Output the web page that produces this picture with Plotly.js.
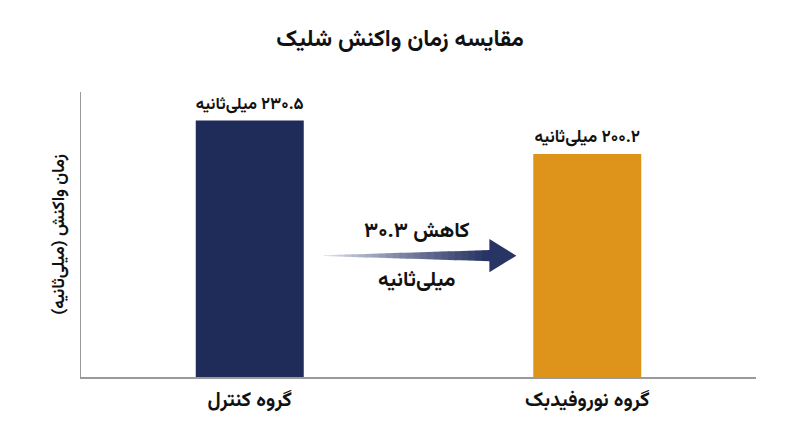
<!DOCTYPE html>
<html>
<head>
<meta charset="utf-8">
<script src="https://cdn.plot.ly/plotly-3.0.1.min.js"></script>
<style>
  html, body { margin: 0; padding: 0; background: #fff; }
  #chart { width: 800px; height: 447px; }
</style>
</head>
<body>
<div id="chart"></div>
<script>
// data
const groups = ['گروه کنترل', 'گروه نوروفیدبک'];
const reactionMs = [230.5, 200.2];
const barColors = ['#1f2c5a', '#de941a'];
const unitLabel = 'میلی‌ثانیه';

const FONT = "Vazirmatn, 'DejaVu Sans', sans-serif";
const RLM = '\u200F';

// english digits -> persian digits
const toFa = (n) => String(n).replace(/[0-9]/g, (d) => '۰۱۲۳۴۵۶۷۸۹'[d]);

const barText = reactionMs.map((v) => RLM + toFa(v.toFixed(1)) + ' ' + unitLabel + RLM);
const diff = (reactionMs[0] - reactionMs[1]).toFixed(1);

// arrow from control bar towards neurofeedback bar, gradient faked with segments
const arrowStart = 0.22, arrowHeadStart = 0.71, arrowTip = 0.79, arrowY = 109;
const shapes = [];
const steps = 24;
const c0 = [236, 238, 244], c1 = [40, 52, 100];
for (let i = 0; i < steps; i++) {
    const t0 = i / steps, t1 = (i + 1) / steps;
    const xa = arrowStart + (arrowHeadStart - arrowStart) * t0;
    const xb = arrowStart + (arrowHeadStart - arrowStart) * t1 + 0.002;
    const ha = 0.4 + 4.6 * t0, hb = 0.4 + 4.6 * t1;
    const col = c0.map((c, k) => Math.round(c + (c1[k] - c) * Math.pow(t1, 0.8)));
    shapes.push({
        type: 'path', xref: 'x', yref: 'y',
        path: `M ${xa} ${arrowY - ha} L ${xb} ${arrowY - hb} L ${xb} ${arrowY + hb} L ${xa} ${arrowY + ha} Z`,
        fillcolor: `rgb(${col.join(',')})`, line: { width: 0 },
    });
}
shapes.push({
    type: 'path', xref: 'x', yref: 'y',
    path: `M ${arrowHeadStart} ${arrowY + 15} L ${arrowTip} ${arrowY} L ${arrowHeadStart} ${arrowY - 15} Z`,
    fillcolor: 'rgb(40,52,100)', line: { width: 0 },
});

const data = [{
    type: 'bar',
    x: groups,
    y: reactionMs,
    width: 0.32,
    marker: { color: barColors, line: { width: 0 } },
    text: barText,
    textposition: 'outside',
    textfont: { family: FONT, size: 17, color: '#111', weight: 'bold' },
    cliponaxis: false,
    hoverinfo: 'none',
}];

const layout = {
    width: 800,
    height: 447,
    margin: { l: 81, r: 44, t: 92, b: 70 },
    paper_bgcolor: '#fff',
    plot_bgcolor: '#fff',
    showlegend: false,
    font: { family: FONT, color: '#111' },
    title: {
        text: '<b>مقایسه زمان واکنش شلیک</b>',
        font: { family: FONT, size: 23, color: '#111' },
        x: 0.5, xanchor: 'center', y: 0.915, yanchor: 'middle',
    },
    xaxis: {
        range: [-0.5, 1.5],
        showline: true, linecolor: '#9a9a9a', linewidth: 1.5,
        showgrid: false, zeroline: false, ticks: '',
        ticklabelstandoff: 3,
        tickfont: { family: FONT, size: 20, color: '#111', weight: 'bold' },
        fixedrange: true,
    },
    yaxis: {
        range: [0, 256],
        showline: true, linecolor: '#9a9a9a', linewidth: 1.5,
        showgrid: false, zeroline: false, ticks: '', showticklabels: false,
        title: {
            text: '<b>' + RLM + 'زمان واکنش (میلی‌ثانیه)' + RLM + '</b>',
            font: { family: FONT, size: 17, color: '#111' },
            standoff: 10,
        },
        fixedrange: true,
    },
    shapes: shapes,
    annotations: [
        {
            x: 0.495, y: 131, xref: 'x', yref: 'y',
            text: '<b>کاهش ' + toFa(diff) + '</b>',
            showarrow: false,
            font: { family: FONT, size: 21, color: '#111' },
        },
        {
            x: 0.495, y: 87, xref: 'x', yref: 'y',
            text: '<b>' + unitLabel + '</b>',
            showarrow: false,
            font: { family: FONT, size: 21, color: '#111' },
        },
    ],
};

Plotly.newPlot('chart', data, layout, { displayModeBar: false, staticPlot: true });
</script>
</body>
</html>
